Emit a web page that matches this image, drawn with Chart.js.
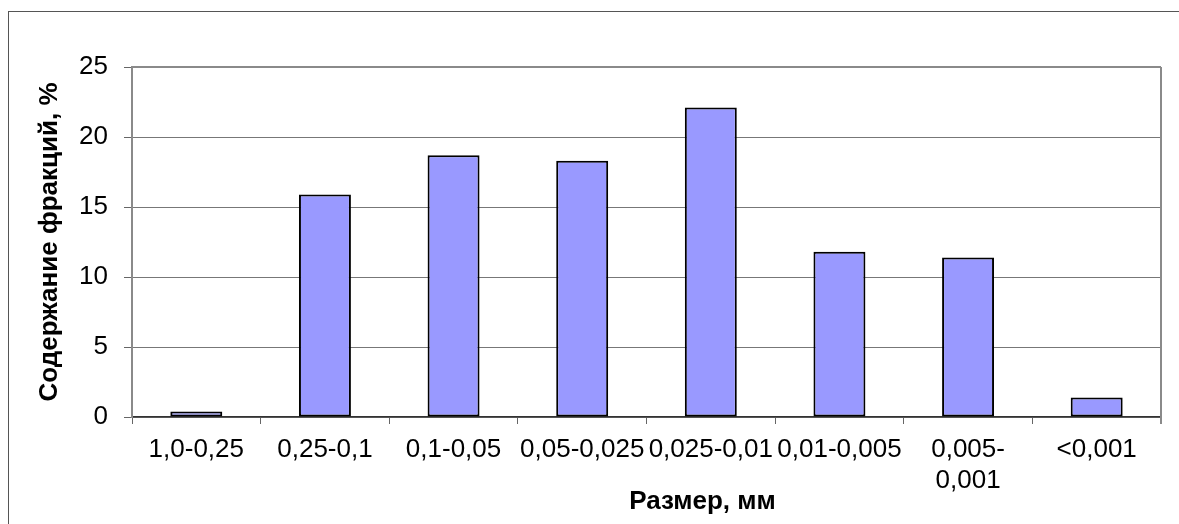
<!DOCTYPE html>
<html>
<head>
<meta charset="utf-8">
<script src="https://cdn.jsdelivr.net/npm/chart.js@4/dist/chart.umd.min.js"></script>
<style>
  html, body { margin: 0; padding: 0; background: #fff; overflow: hidden; }
  body { width: 1179px; height: 524px; position: relative; }
  /* рамка области диаграммы (правый и нижний край за пределами окна) */
  #frame {
    position: absolute; left: 8px; top: 11px; width: 2000px; height: 2000px;
    border-left: 1px solid #555; border-top: 1px solid #555;
  }
  #wrap { position: absolute; left: 0; top: 0; width: 1179px; height: 524px; }
</style>
</head>
<body>
<div id="frame"></div>
<div id="wrap"><canvas id="grainChart"></canvas></div>
<script>
// Гранулометрический состав: фракции и их содержание
const fractions = ['1,0-0,25', '0,25-0,1', '0,1-0,05', '0,05-0,025', '0,025-0,01',
                   '0,01-0,005', ['0,005-', '0,001'], '<0,001'];
const fractionShare = [0.4, 15.9, 18.7, 18.3, 22.1, 11.8, 11.4, 1.4];
const yMin = 0, yMax = 25, yStep = 5;
const xTitle = 'Размер, мм';

const fontName = "'Liberation Sans', Arial, sans-serif";

// верхняя и правая граница области построения + подпись оси X (сдвинута вправо)
const plotBorder = {
    id: 'plotBorder',
    afterDraw(chart) {
        const a = chart.chartArea;
        const ctx = chart.ctx;
        ctx.save();
        ctx.strokeStyle = '#8a8a8a';
        ctx.lineWidth = 2;
        ctx.beginPath();
        ctx.moveTo(a.left, a.top);
        ctx.lineTo(a.right, a.top);
        ctx.moveTo(a.right, a.top);
        ctx.lineTo(a.right, a.bottom + 7);
        ctx.stroke();

        ctx.fillStyle = '#000';
        ctx.font = "bold 26px " + fontName;
        ctx.textAlign = 'center';
        ctx.textBaseline = 'middle';
        ctx.fillText(xTitle, (a.left + a.right) / 2 + 56, chart.height - 22);
        ctx.restore();
    }
};

new Chart(document.getElementById('grainChart'), {
    type: 'bar',
    data: {
        labels: fractions,
        datasets: [{
            data: fractionShare,
            backgroundColor: '#9999ff',
            borderColor: '#000',
            borderWidth: 2,
            borderSkipped: false,
            categoryPercentage: 1,
            barPercentage: 0.404
        }]
    },
    options: {
        responsive: true,
        maintainAspectRatio: false,
        animation: false,
        layout: { padding: { left: 0, top: 67, right: 18, bottom: 0 } },
        plugins: { legend: { display: false }, tooltip: { enabled: false } },
        scales: {
            x: {
                afterFit: s => { s.height = 107; },
                grid: { drawOnChartArea: false, drawTicks: true, tickLength: 7, tickColor: '#666', offset: true },
                border: { color: '#333', width: 1.5 },
                ticks: {
                    autoSkip: false, maxRotation: 0, minRotation: 0, padding: 10,
                    color: '#000', font: { family: fontName, size: 26 }
                }
            },
            y: {
                min: yMin, max: yMax,
                afterFit: s => { s.width = 132; },
                grid: {
                    color: '#777', lineWidth: 1, tickLength: 8, tickColor: '#666'
                },
                border: { color: '#8a8a8a', width: 2 },
                ticks: {
                    stepSize: yStep, padding: 16, color: '#000',
                    font: { family: fontName, size: 26 }
                },
                title: {
                    display: true, text: 'Содержание фракций, %', color: '#000',
                    font: { family: fontName, size: 26, weight: 'bold' },
                    padding: { top: 34.4, bottom: 0 }
                }
            }
        }
    },
    plugins: [plotBorder]
});
</script>
</body>
</html>
